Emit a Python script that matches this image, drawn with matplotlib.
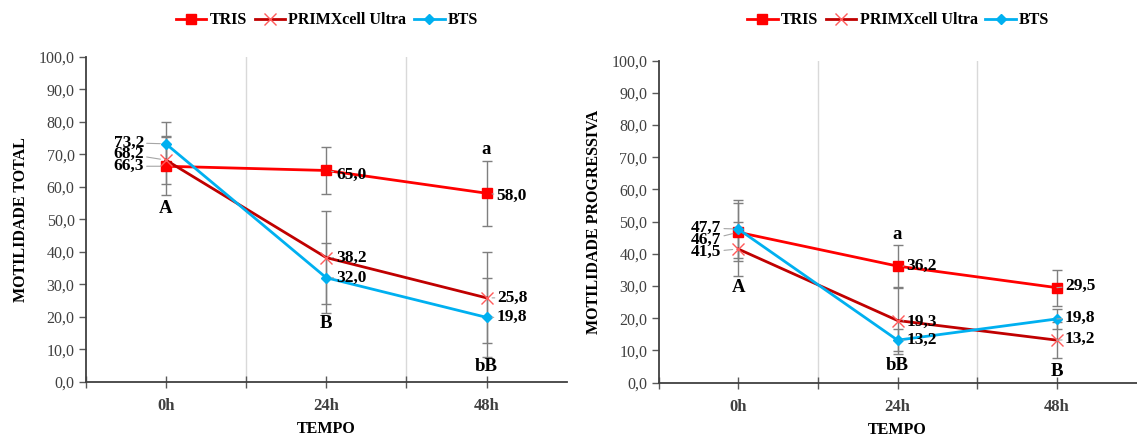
import matplotlib
matplotlib.use("Agg")
import matplotlib.pyplot as plt
from matplotlib.lines import Line2D

# ---- data ----
tempos = ["0h", "24h", "48h"]
series_names = ["TRIS", "PRIMXcell Ultra", "BTS"]

total_tris = [66.3, 65.0, 58.0]
total_prim = [68.2, 38.2, 25.8]
total_bts = [73.2, 32.0, 19.8]
total_tris_err = [9.0, 7.2, 10.0]
total_prim_err = [7.5, 14.4, 14.0]
total_bts_err = [6.6, 10.8, 12.2]

prog_tris = [46.7, 36.2, 29.5]
prog_prim = [41.5, 19.3, 13.2]
prog_bts = [47.7, 13.2, 19.8]
prog_tris_err = [9.0, 6.7, 5.6]
prog_prim_err = [8.4, 10.3, 5.5]
prog_bts_err = [9.1, 3.5, 3.0]

# significance letters: (category index, y, text)
total_letters = [(0, 53.4, "A"), (1, 18.0, "B"), (2, 71.6, "a"), (2, 4.6, "bB")]
prog_letters = [(0, 29.6, "A"), (1, 46.0, "a"), (1, 5.4, "bB"), (2, 3.4, "B")]

# ---- styling ----
SERIF = "Liberation Serif"
plt.rcParams["font.family"] = [SERIF, "DejaVu Serif"]
colors = ["#FF0000", "#C00000", "#00B0F0"]
markers = ["s", "x", "D"]
msizes = [7, 9, 5.5]
mfc = ["#FF0000", "#FF5B5B", "#00B0F0"]
err_color = "#7F7F7F"
axis_color = "#595959"

fig = plt.figure(figsize=(11.37, 4.37), dpi=100)
ax1 = fig.add_axes([0.0754, 0.1265, 0.423, 0.7437])
ax2 = fig.add_axes([0.5792, 0.1243, 0.4204, 0.737])


def fmt(v):
    return f"{v:.1f}".replace(".", ",")


def draw_panel(ax, values, errors, label_offsets, letters, ylabel):
    x = list(range(len(tempos)))
    for vals, errs in zip(values, errors):
        ax.errorbar(x, vals, yerr=errs, fmt="none", ecolor=err_color,
                    elinewidth=1, capsize=3.3, capthick=1, zorder=2)
    for i, vals in enumerate(values):
        ax.plot(x, vals, color=colors[i], lw=2, marker=markers[i],
                ms=msizes[i], mfc=mfc[i], mec=mfc[i], mew=1,
                zorder=3 + i * 0.1)
    # value labels
    for i, vals in enumerate(values):
        for j, v in enumerate(vals):
            dx, dy = label_offsets[i][j]
            ha = "right" if dx < 0 else "left"
            ax.annotate(fmt(v), xy=(j, v), xytext=(dx, dy),
                        textcoords="offset pixels", ha=ha, va="center",
                        fontsize=12.5, fontweight="bold", color="black",
                        arrowprops=dict(arrowstyle="-", color="#A6A6A6",
                                        lw=0.8, shrinkA=0, shrinkB=4),
                        zorder=6)
    for j, y, t in letters:
        ax.text(j, y, t, ha="center", va="center", fontsize=13.5,
                fontweight="bold", color="black", zorder=6)

    ax.set_xlim(-0.5, 2.5)
    ax.set_ylim(0, 100)
    ax.set_yticks([k * 10 for k in range(11)])
    ax.set_yticklabels([fmt(k * 10) for k in range(11)])
    ax.set_xticks([-0.5, 0, 0.5, 1, 1.5, 2])
    ax.set_xticklabels(["", tempos[0], "", tempos[1], "", tempos[2]],
                       fontweight="bold")
    ax.tick_params(axis="x", direction="inout", length=8, width=1,
                   colors=axis_color, labelcolor="#404040", labelsize=12,
                   pad=8)
    ax.tick_params(axis="y", direction="out", length=5, width=1,
                   colors=axis_color, labelcolor="#404040", labelsize=11.5,
                   pad=3)
    for xv in (0.5, 1.5):
        ax.axvline(xv, color="#D9D9D9", lw=1, zorder=0)
    for s in ("top", "right"):
        ax.spines[s].set_visible(False)
    for s in ("left", "bottom"):
        ax.spines[s].set_color("#404040")
        ax.spines[s].set_linewidth(1.3)
    ax.set_xlabel("TEMPO", fontsize=11.5, fontweight="bold", labelpad=5)
    ax.set_ylabel(ylabel, fontsize=11.5, fontweight="bold", labelpad=7)


total_offsets = [
    [(-22, 0), (10, -4), (10, -3)],
    [(-22, 6), (10, 0), (11, 0)],
    [(-22, 1), (10, 0), (10, 0)],
]
prog_offsets = [
    [(-17, -8), (9, 0), (8, 2)],
    [(-17, -3), (9, -1), (8, 1)],
    [(-17, 1), (9, 0), (8, 1)],
]

draw_panel(ax1, [total_tris, total_prim, total_bts],
           [total_tris_err, total_prim_err, total_bts_err],
           total_offsets, total_letters, "MOTILIDADE TOTAL")
draw_panel(ax2, [prog_tris, prog_prim, prog_bts],
           [prog_tris_err, prog_prim_err, prog_bts_err],
           prog_offsets, prog_letters, "MOTILIDADE PROGRESSIVA")

handles = [Line2D([], [], color=colors[i], lw=2, marker=markers[i],
                  ms=msizes[i], mfc=mfc[i], mec=mfc[i])
           for i in range(3)]
for cx in (0.2876, 0.79):
    fig.legend(handles, series_names, loc="center", ncol=3,
               bbox_to_anchor=(cx, 0.954), frameon=False,
               prop={"family": SERIF, "weight": "bold", "size": 11.5},
               handlelength=1.9, handletextpad=0.2, columnspacing=0.5)

fig.savefig("out.png", dpi=100)
